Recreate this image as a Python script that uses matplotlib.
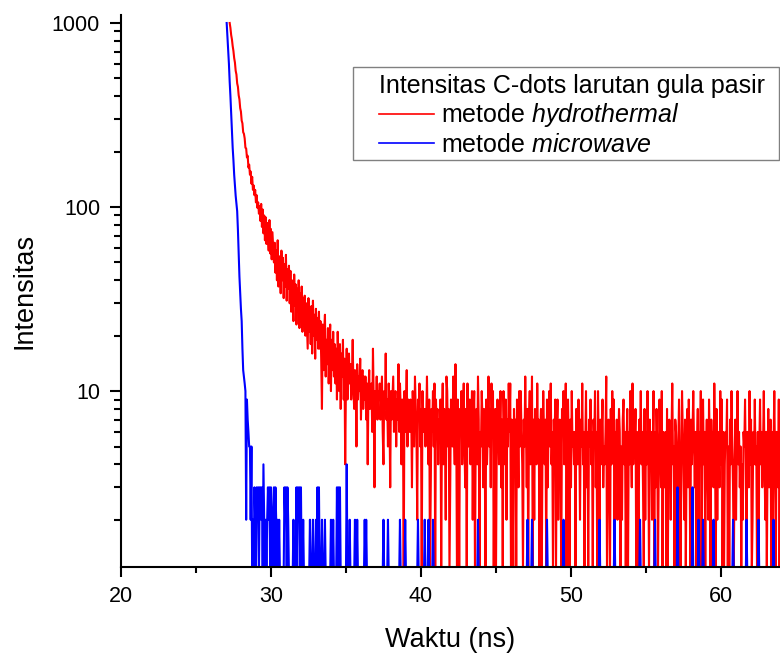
import numpy as np
import matplotlib
matplotlib.use('Agg')
import matplotlib.pyplot as plt
from matplotlib.patches import Rectangle
from matplotlib.ticker import MultipleLocator, FixedLocator, LogLocator, NullFormatter, FuncFormatter

plt.rcParams['font.family'] = ['Liberation Sans', 'DejaVu Sans']
plt.rcParams['mathtext.fontset'] = 'custom'
plt.rcParams['mathtext.rm'] = 'Liberation Sans'
plt.rcParams['mathtext.it'] = 'Liberation Sans:italic'

# lebar kanal waktu (ns) dan awal tiap kurva
step = 0.05
red_start = 27.25
blue_start = 27.05

# metode hydrothermal: cacah per kanal, satu baris = 1 ns
red_counts = [
    1000, 940, 860, 815, 750, 705, 645, 610, 550, 525, 470, 450, 405, 385, 345, 330, 295, 285, 255, 250,
    236, 210, 208, 186, 190, 164, 170, 150, 156, 134, 146, 124, 131, 116, 124, 106, 116, 99, 106, 92,
    101, 84, 104, 78, 97, 72, 90, 66, 88, 63, 82, 70, 58, 85, 56, 76, 52, 73, 60, 50,
    64, 44, 58, 40, 66, 37, 54, 45, 34, 58, 40, 53, 32, 49, 37, 55, 31, 46, 36, 48,
    30, 45, 27, 40, 34, 24, 43, 29, 38, 23, 36, 27, 40, 22, 34, 26, 37, 21, 32, 25,
    33, 20, 30, 23, 17, 32, 21, 28, 18, 29, 16, 31, 20, 26, 15, 28, 19, 25, 17, 27,
    17, 24, 15, 8, 23, 13, 21, 26, 12, 19, 14, 22, 11, 18, 23, 10, 19, 13, 21, 12,
    18, 11, 17, 9, 21, 13, 10, 18, 8, 16, 12, 19, 9, 15, 4, 11, 17, 9, 14, 16,
    11, 14, 9, 12, 19, 10, 8, 13, 11, 5, 14, 9, 12, 10, 15, 7, 11, 13, 8, 12,
    9, 12, 7, 11, 4, 10, 13, 8, 9, 11, 6, 17, 9, 3, 10, 8, 12, 7, 10, 9,
    11, 7, 9, 12, 6, 4, 10, 8, 16, 7, 9, 5, 11, 8, 3, 10, 7, 9, 12, 6,
    8, 10, 5, 9, 7, 14, 6, 11, 8, 4, 9, 7, 1, 10, 6, 8, 13, 5, 9, 7,
    6, 9, 8, 3, 10, 7, 5, 12, 8, 6, 2, 9, 7, 11, 5, 8, 1, 10, 6, 7,
    8, 5, 7, 12, 6, 4, 9, 1, 3, 8, 6, 10, 5, 11, 1, 9, 6, 8, 4, 7,
    6, 9, 1, 7, 11, 4, 8, 6, 2, 12, 10, 5, 8, 1, 3, 9, 7, 5, 12, 6,
    4, 14, 7, 1, 9, 6, 1, 8, 6, 10, 4, 7, 11, 5, 3, 8, 1, 11, 5, 7,
    9, 4, 6, 10, 2, 7, 10, 1, 6, 8, 4, 12, 7, 1, 6, 5, 10, 7, 3, 8,
    5, 1, 9, 4, 6, 12, 5, 8, 3, 11, 6, 10, 1, 6, 8, 1, 5, 9, 7, 4,
    6, 10, 3, 7, 1, 10, 6, 4, 9, 2, 7, 5, 11, 6, 11, 1, 7, 5, 1, 8,
    5, 7, 1, 9, 6, 3, 10, 5, 10, 6, 4, 1, 7, 5, 12, 6, 3, 8, 1, 7,
    10, 4, 6, 12, 1, 7, 2, 8, 6, 4, 11, 5, 7, 1, 6, 8, 1, 5, 10, 6,
    4, 7, 1, 9, 3, 6, 10, 5, 11, 4, 6, 1, 7, 5, 9, 1, 6, 9, 2, 5,
    7, 5, 1, 8, 6, 10, 4, 5, 11, 1, 6, 9, 5, 1, 7, 3, 10, 5, 6, 4,
    6, 1, 8, 5, 4, 9, 6, 2, 7, 5, 11, 4, 6, 1, 5, 10, 3, 6, 1, 7,
    5, 9, 4, 6, 1, 7, 5, 10, 3, 6, 1, 10, 5, 1, 7, 4, 6, 9, 3, 5,
    4, 6, 12, 1, 3, 7, 5, 1, 8, 4, 10, 5, 9, 1, 6, 4, 7, 2, 5, 8,
    6, 1, 5, 2, 7, 9, 4, 6, 1, 5, 8, 1, 6, 4, 10, 5, 3, 11, 4, 6,
    5, 8, 1, 6, 4, 1, 7, 5, 10, 4, 6, 3, 1, 8, 2, 6, 4, 10, 5, 1,
    7, 4, 6, 2, 5, 10, 1, 6, 3, 8, 5, 1, 4, 9, 5, 3, 10, 1, 6, 5,
    3, 6, 1, 8, 1, 4, 7, 5, 2, 6, 11, 4, 5, 1, 7, 6, 4, 1, 5, 9,
    4, 1, 3, 10, 6, 4, 2, 7, 1, 4, 8, 3, 9, 5, 1, 7, 4, 6, 10, 5,
    3, 6, 1, 5, 8, 2, 6, 4, 10, 1, 5, 9, 4, 6, 1, 5, 7, 4, 2, 9,
    5, 1, 7, 4, 6, 3, 11, 5, 1, 8, 2, 6, 5, 3, 10, 4, 9, 1, 6, 1,
    4, 6, 5, 9, 1, 5, 1, 7, 4, 10, 5, 3, 1, 4, 7, 2, 5, 10, 4, 6,
    3, 5, 1, 4, 2, 6, 5, 9, 4, 1, 6, 5, 3, 10, 4, 7, 1, 2, 6, 4,
    9, 4, 5, 1, 6, 1, 5, 9, 4, 6, 3, 5, 10, 4, 2, 6, 1, 4, 8, 3,
    5, 7, 1, 6, 2, 5, 10, 4, 1, 6, 5, 3, 9, 1, 6,
]

# metode microwave: peluruhan (27.05-29.00 ns) lalu ekor, satu digit per kanal
blue_decay = [
    1000, 850, 720, 600, 480, 400, 320, 260, 210, 180, 150, 130, 115, 105, 95, 75, 55, 42, 34, 28,
    24, 17, 13, 12, 11, 10, 2, 9, 7, 6, 5, 5, 2, 5, 1, 2, 1, 3, 2, 1,
]
blue_tail_rows = [
    "32313323142121232313", "21231321212111111323", "13211111121113132313",
    "11211111111211121112", "13131112111211111112", "11211113131311111111",
    "41112111111211211111", "11112121111111111111", "11111111121111121111",
    "11111111111211111121", "11111111111111121111", "11112111121111121111",
    "11111111111111111111", "11111111111111111111", "11111111111111121111",
    "11111111111111111111", "11111111111111111111", "11111111111111111111",
    "12111112111111111111", "11111112111111111111", "11111111121111111111",
    "11111111111111111111", "11111111111111111211", "11111111111111111211",
    "11111111111111111111", "11111111111211111111", "11111111111211111111",
    "11111111111111111111", "13111111111111111111", "13111111121111121111",
    "11111111121111111111", "11111111111111121111", "11111111111112111111",
    "11111111121111111111", "11111111121111111111",
]
blue_counts = blue_decay + [int(c) for row in blue_tail_rows for c in row]

red_t = red_start + step * np.arange(len(red_counts))
blue_t = blue_start + step * np.arange(len(blue_counts))

fig = plt.figure(figsize=(7.8, 6.53), dpi=100)
ax = fig.add_axes([0.155, 0.132, 0.845, 0.845])

ax.plot(red_t, red_counts, color='#ff0000', lw=1.5,
        label=r'metode $\mathit{hydrothermal}$')
ax.plot(blue_t, blue_counts, color='#0000ff', lw=1.5,
        label=r'metode $\mathit{microwave}$')

ax.set_yscale('log')
ax.set_xlim(20, 63.93)
ax.set_ylim(1.11, 1105)

ax.xaxis.set_major_locator(FixedLocator([20, 30, 40, 50, 60]))
ax.xaxis.set_minor_locator(MultipleLocator(5))
ax.yaxis.set_major_locator(FixedLocator([10, 100, 1000]))
ax.yaxis.set_major_formatter(FuncFormatter(lambda v, p: f'{int(v)}'))
ax.yaxis.set_minor_locator(LogLocator(base=10, subs=np.arange(2, 10)))
ax.yaxis.set_minor_formatter(NullFormatter())

ax.spines['top'].set_visible(False)
ax.spines['right'].set_visible(False)
for s in ['left', 'bottom']:
    ax.spines[s].set_linewidth(1.5)
ax.tick_params(which='major', direction='out', width=1.5, labelsize=15.5)
ax.tick_params(which='minor', direction='out', width=1.5)
ax.tick_params(axis='x', which='major', length=7.5, pad=6.5)
ax.tick_params(axis='x', which='minor', length=4)
ax.tick_params(axis='y', which='major', length=8, pad=7)
ax.tick_params(axis='y', which='minor', length=5)

ax.set_xlabel('Waktu (ns)', fontsize=19.5, labelpad=14)
ax.set_ylabel('Intensitas', fontsize=19.5, labelpad=10)

# kotak legenda
ax.add_patch(Rectangle((0.352, 0.737), 0.646, 0.169, transform=ax.transAxes,
                       facecolor='white', edgecolor='#808080', lw=1.0,
                       clip_on=False, zorder=4))
leg = ax.legend(title='Intensitas C-dots larutan gula pasir', fontsize=18,
                title_fontsize=18, loc='upper left', bbox_to_anchor=(0.392, 0.894),
                borderaxespad=0, borderpad=0, frameon=False,
                handlelength=2.2, handletextpad=0.25, labelspacing=0.15)
leg.set_zorder(5)
leg._legend_box.align = 'left'
for h in leg.get_lines():
    h.set_linewidth(1.2)

fig.savefig('out.png', dpi=100)
